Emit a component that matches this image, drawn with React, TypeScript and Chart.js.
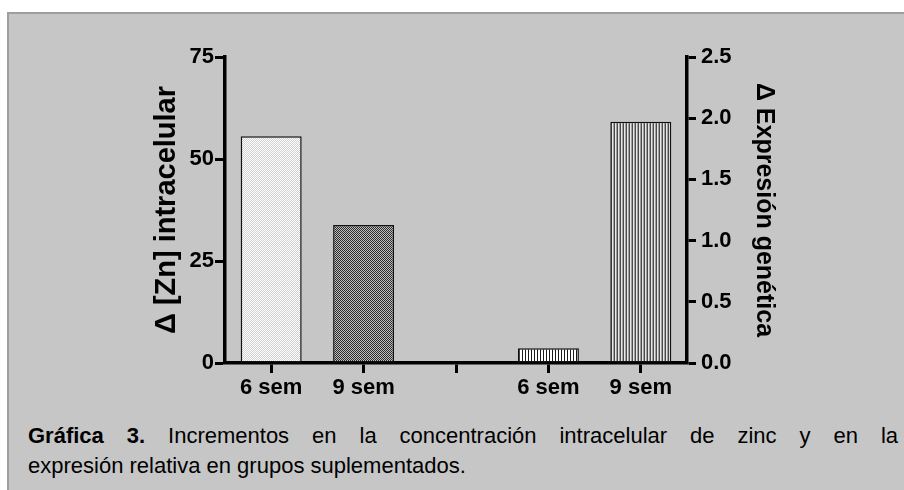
import React, { useEffect, useRef } from "react";
import { Chart, registerables } from "chart.js";

Chart.register(...registerables);

const categories = ["6 sem", "9 sem", "", "6 sem", "9 sem"];
const zincValues = [55.6, 33.8, null, null, null];
const expressionValues = [null, null, null, 0.12, 1.97];
const leftTicks = [0, 25, 50, 75];
const rightTicks = [0, 0.5, 1.0, 1.5, 2.0, 2.5];
const leftTitle = "Δ [Zn] intracelular";
const rightTitle = "Δ Expresión genética";
const captionBold = "Gráfica 3.";
const captionLine1 = " Incrementos en la concentración intracelular de zinc y en la";
const captionLine2 = "expresión relativa en grupos suplementados.";

const FONT = "'Liberation Sans', Arial, sans-serif";
const PANEL_BG = "#c6c6c6";

function makePattern(cells: string[][]): CanvasPattern | string {
  const c = document.createElement("canvas");
  const h = cells.length;
  const w = cells[0].length;
  c.width = w;
  c.height = h;
  const g = c.getContext("2d")!;
  for (let y = 0; y < h; y++) {
    for (let x = 0; x < w; x++) {
      g.fillStyle = cells[y][x];
      g.fillRect(x, y, 1, 1);
    }
  }
  const ctx = document.createElement("canvas").getContext("2d")!;
  return ctx.createPattern(c, "repeat") || cells[0][0];
}

export default function App() {
  const ref = useRef<HTMLCanvasElement | null>(null);

  useEffect(() => {
    if (!ref.current) return;
    Chart.defaults.font.family = FONT;
    const dotsLight = makePattern([
      ["#ffffff", "#d2d2d2"],
      ["#d2d2d2", "#ffffff"],
    ]);
    const dotsDark = makePattern([
      ["#2a2a2a", "#c0c0c0"],
      ["#c0c0c0", "#2a2a2a"],
    ]);
    const linesSparse = makePattern([["#1a1a1a", "#ffffff", "#ffffff"]]);
    const linesDense = makePattern([["#e8e8e8", "#a0a0a0", "#4a4a4a"]]);

    const chart = new Chart(ref.current, {
      type: "bar",
      data: {
        labels: categories,
        datasets: [
          {
            data: zincValues as any,
            yAxisID: "yL",
            backgroundColor: [dotsLight, dotsDark, dotsLight, dotsLight, dotsLight] as any,
            borderColor: "#111111",
            borderWidth: 1.5,
            borderSkipped: false,
          },
          {
            data: expressionValues as any,
            yAxisID: "yR",
            backgroundColor: [linesSparse, linesSparse, linesSparse, linesSparse, linesDense] as any,
            borderColor: "#111111",
            borderWidth: 1.5,
            borderSkipped: false,
          },
        ],
      },
      options: {
        responsive: false,
        animation: false,
        devicePixelRatio: 1,
        layout: { padding: { left: 0, right: 0, top: 57, bottom: 0 } },
        plugins: { legend: { display: false }, tooltip: { enabled: false } },
        datasets: {
          bar: { grouped: false, categoryPercentage: 1, barPercentage: 0.66 },
        },
        scales: {
          x: {
            type: "category",
            afterFit: (s: any) => {
              s.height = 37;
            },
            border: { display: true, color: "#000", width: 3.5 },
            grid: {
              display: true,
              drawOnChartArea: false,
              drawTicks: true,
              offset: false,
              tickLength: 10,
              tickWidth: 3,
              tickColor: "#000",
            },
            ticks: {
              color: "#000",
              padding: 2,
              font: { size: 22, weight: "bold", family: FONT },
              maxRotation: 0,
              autoSkip: false,
            },
          },
          yL: {
            type: "linear",
            position: "left",
            min: 0,
            max: 75,
            afterFit: (s: any) => {
              s.width = 225;
            },
            afterBuildTicks: (s: any) => {
              s.ticks = leftTicks.map((v) => ({ value: v }));
            },
            border: { display: true, color: "#000", width: 3.5 },
            grid: {
              drawOnChartArea: false,
              tickLength: 10,
              tickWidth: 3,
              tickColor: "#000",
            },
            ticks: {
              color: "#000",
              padding: 1,
              font: { size: 22, weight: "bold", family: FONT },
              callback: (v: any) => String(v),
            },
            title: {
              display: true,
              text: leftTitle,
              color: "#000",
              font: { size: 29, weight: "bold", family: FONT },
              padding: { top: 150, bottom: 0 },
            },
          },
          yR: {
            type: "linear",
            position: "right",
            min: 0,
            max: 2.5,
            afterFit: (s: any) => {
              s.width = 217;
            },
            afterBuildTicks: (s: any) => {
              s.ticks = rightTicks.map((v) => ({ value: v }));
            },
            border: { display: true, color: "#000", width: 3.5 },
            grid: {
              drawOnChartArea: false,
              tickLength: 9,
              tickWidth: 3,
              tickColor: "#000",
            },
            ticks: {
              color: "#000",
              padding: 5,
              font: { size: 22, weight: "bold", family: FONT },
              callback: (v: any) => Number(v).toFixed(1),
            },
            title: {
              display: true,
              text: rightTitle,
              color: "#000",
              font: { size: 25, weight: "bold", family: FONT },
              padding: { top: 125, bottom: 0 },
            },
          },
        },
      } as any,
    });
    return () => chart.destroy();
  }, []);

  return (
    <div style={{ position: "absolute", left: 0, top: 0, width: 904, height: 490, overflow: "hidden", background: "#ffffff" }}>
      <div
        style={{
          position: "absolute",
          left: 7,
          top: 12,
          width: 910,
          height: 490,
          background: PANEL_BG,
          borderTop: "2px solid #9e9e9e",
          borderLeft: "2px solid #9e9e9e",
        }}
      />
      <canvas
        ref={ref}
        width={904}
        height={400}
        style={{ position: "absolute", left: 0, top: 0, width: 904, height: 400 }}
      />
      <div
        style={{
          position: "absolute",
          left: 28,
          top: 421,
          width: 870,
          fontFamily: FONT,
          fontSize: 22,
          lineHeight: "30px",
          color: "#000",
        }}
      >
        <div style={{ textAlign: "justify", textAlignLast: "justify", whiteSpace: "normal" }}>
          <b>{captionBold}</b>
          {captionLine1}
        </div>
        <div style={{ textAlign: "left" }}>{captionLine2}</div>
      </div>
    </div>
  );
}
